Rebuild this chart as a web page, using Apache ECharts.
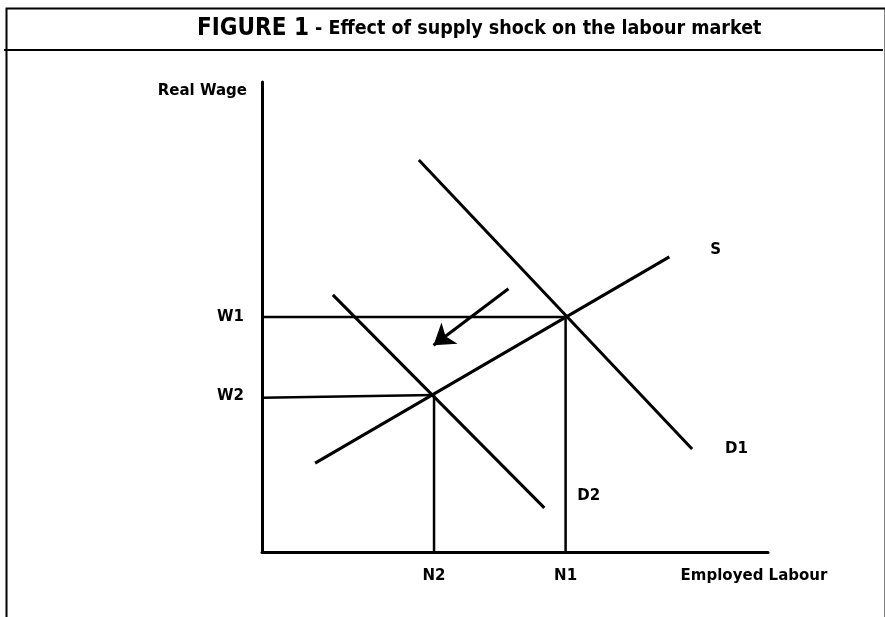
<!DOCTYPE html>
<html>
<head>
<meta charset="utf-8">
<script src="https://cdn.jsdelivr.net/npm/echarts@6/dist/echarts.min.js"></script>
<style>
  html, body { margin: 0; padding: 0; background: #fff; }
  #main { width: 885px; height: 617px; }
</style>
</head>
<body>
<div id="main"></div>
<script>
// curves, in chart units (0..100 on both axes)
var supply  = [[10.5, 18.9], [80.5, 62.8]];
var demand1 = [[31.0, 83.4], [85.0, 21.9]];
var demand2 = [[14.0, 54.7], [55.8, 9.4]];
var shiftArrow = [[48.7, 56.0], [33.9, 44.0]];
// equilibrium guide lines
var w1Line = [[0, 50.0], [60, 50.0]];
var n1Line = [[60, 0], [60, 50.0]];
var w2Line = [[0, 32.8], [34, 33.4]];
var n2Line = [[34, 0], [34, 33.4]];
// tick labels
var xTickValues = [34, 60];
var xTickNames = ['N2', 'N1'];
var yTickValues = [50, 33.1];
var yTickNames = ['W1', 'W2'];

var labelFont = { fontFamily: 'DejaVu Sans', fontWeight: 'bold', fontSize: 15, color: '#000' };

function lineSeries(name, data, width, withLabel, offset) {
    var s = {
        name: name,
        type: 'line',
        data: data,
        symbol: 'none',
        silent: true,
        animation: false,
        lineStyle: { color: '#000', width: width }
    };
    if (withLabel) {
        s.endLabel = Object.assign({
            show: true,
            formatter: '{a}',
            offset: offset
        }, labelFont);
    }
    return s;
}

var myChart = echarts.init(document.getElementById('main'));
var option = {
    backgroundColor: '#fff',
    animation: false,
    title: {
        text: '{a|FIGURE 1}{b| - Effect of supply shock on the labour market}',
        left: 192,
        top: 12,
        textStyle: {
            rich: {
                a: { fontFamily: 'DejaVu Sans Condensed', fontWeight: 'bold', fontSize: 24, color: '#000' },
                b: { fontFamily: 'DejaVu Sans Condensed', fontWeight: 'bold', fontSize: 19.5, color: '#000' }
            }
        }
    },
    graphic: [
        { type: 'rect', left: 4, top: 6, shape: { width: 879, height: 700 },
          style: { fill: null, stroke: '#000', lineWidth: 2 }, silent: true },
        { type: 'line', shape: { x1: 4, y1: 50, x2: 883, y2: 50 },
          style: { stroke: '#000', lineWidth: 2 }, silent: true }
    ],
    grid: { left: 262, right: 117, top: 82, bottom: 65 },
    xAxis: {
        type: 'value',
        min: 0,
        max: 100,
        name: 'Employed Labour',
        nameLocation: 'end',
        nameGap: -14,
        nameTextStyle: Object.assign({ align: 'center', verticalAlign: 'top', padding: [17, 0, 0, 0] }, labelFont),
        axisLine: { show: true, lineStyle: { color: '#000', width: 3 } },
        axisTick: { show: false },
        splitLine: { show: false },
        axisLabel: Object.assign({
            customValues: xTickValues,
            margin: 17,
            formatter: function (v) { return xTickNames[xTickValues.indexOf(v)]; }
        }, labelFont)
    },
    yAxis: {
        type: 'value',
        min: 0,
        max: 100,
        name: 'Real Wage',
        nameLocation: 'end',
        nameGap: -9,
        nameTextStyle: Object.assign({ align: 'right', verticalAlign: 'middle', padding: [0, 15, 0, 0] }, labelFont),
        axisLine: { show: true, lineStyle: { color: '#000', width: 3 } },
        axisTick: { show: false },
        splitLine: { show: false },
        axisLabel: Object.assign({
            customValues: yTickValues,
            margin: 18,
            formatter: function (v) { return yTickNames[yTickValues.indexOf(v)]; }
        }, labelFont)
    },
    series: [
        lineSeries('W1', w1Line, 2.5),
        lineSeries('N1', n1Line, 2.5),
        lineSeries('W2', w2Line, 2.5),
        lineSeries('N2', n2Line, 2.5),
        lineSeries('S', supply, 3, true, [33, -7]),
        lineSeries('D1', demand1, 3, true, [25, 0]),
        lineSeries('D2', demand2, 3, true, [25, -12]),
        {
            name: 'shift',
            type: 'line',
            data: [],
            silent: true,
            animation: false,
            markLine: {
                silent: true,
                animation: false,
                symbol: ['none', 'arrow'],
                symbolSize: 20,
                label: { show: false },
                lineStyle: { color: '#000', width: 3, type: 'solid' },
                data: [[{ coord: shiftArrow[0] }, { coord: shiftArrow[1] }]]
            }
        }
    ]
};
myChart.setOption(option, true);
</script>
</body>
</html>
